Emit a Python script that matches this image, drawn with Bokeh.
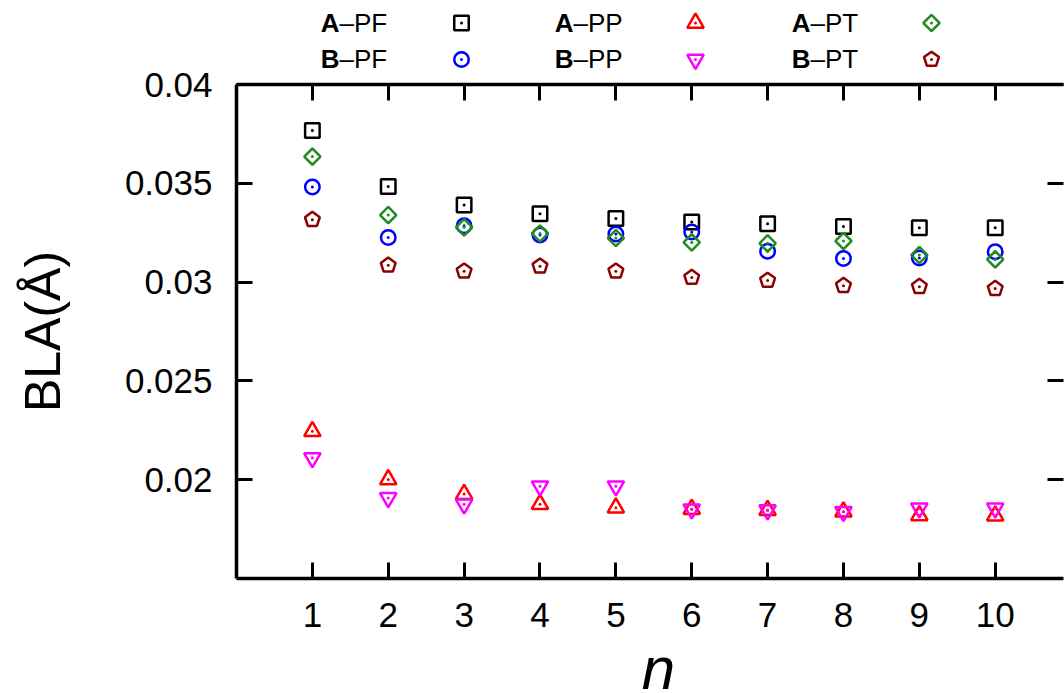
import math
from bokeh.plotting import figure
from bokeh.models import Range1d, FixedTicker, LinearAxis
from bokeh.layouts import column
from bokeh.core.properties import value
from bokeh.embed import file_html
from bokeh.resources import INLINE

# ---------------- data ----------------
n_values = [1, 2, 3, 4, 5, 6, 7, 8, 9, 10]
A_PF = [0.03767, 0.03484, 0.03390, 0.03346, 0.03322, 0.03304, 0.03295, 0.03282, 0.03275, 0.03275]
B_PF = [0.03481, 0.03226, 0.03285, 0.03238, 0.03243, 0.03254, 0.03156, 0.03119, 0.03122, 0.03154]
A_PP = [0.02245, 0.02001, 0.01927, 0.01876, 0.01858, 0.01851, 0.01846, 0.01838, 0.01819, 0.01818]
B_PP = [0.02110, 0.01908, 0.01876, 0.01967, 0.01967, 0.01851, 0.01846, 0.01838, 0.01856, 0.01856]
A_PT = [0.03635, 0.03339, 0.03277, 0.03246, 0.03223, 0.03201, 0.03196, 0.03208, 0.03137, 0.03115]
B_PT = [0.03316, 0.03085, 0.03055, 0.03080, 0.03055, 0.03023, 0.03008, 0.02982, 0.02977, 0.02967]

y_ticks = [0.02, 0.025, 0.03, 0.035, 0.04]
y_tick_labels = ["0.02", "0.025", "0.03", "0.035", "0.04"]
x_ticks = [1, 2, 3, 4, 5, 6, 7, 8, 9, 10]

legend_bold = ["A", "B", "A", "B", "A", "B"]
legend_rest = ["\u2013PF", "\u2013PF", "\u2013PP", "\u2013PP", "\u2013PT", "\u2013PT"]

x_title = "n"
y_title = "BLA(\u00c5)"

# ---------------- styles ----------------
FONT = "Liberation Sans"
LW = 2.5
styles = {
    "A_PF": dict(marker="square", color="#000000", size=14.5, angle=0.0),
    "B_PF": dict(marker="circle", color="#0000ff", size=14.5, angle=0.0),
    "A_PP": dict(marker="triangle", color="#ff0000", size=16.5, angle=0.0),
    "B_PP": dict(marker="inverted_triangle", color="#ff00ff", size=16.5, angle=0.0),
    "A_PT": dict(marker="square", color="#228b22", size=11.5, angle=math.pi / 4),
    "B_PT": dict(marker="pentagon", color="#8b0000", size=7.8, angle=0.0),
}
series = {"A_PF": A_PF, "B_PF": B_PF, "A_PP": A_PP, "B_PP": B_PP, "A_PT": A_PT, "B_PT": B_PT}
legend_order = ["A_PF", "B_PF", "A_PP", "B_PP", "A_PT", "B_PT"]

PENT_ANGLE = 0.0


def draw(fig, xs, ys, st):
    if st["marker"] == "pentagon":
        drawn = False
        try:
            fig.ngon(x=xs, y=ys, radius=st["size"], radius_units="screen", n=5,
                     angle=PENT_ANGLE, fill_color=None, line_color=st["color"], line_width=LW)
            drawn = True
        except Exception:
            drawn = False
        if not drawn:
            fig.scatter(x=xs, y=ys, marker="hex", size=15, fill_color=None,
                        line_color=st["color"], line_width=LW)
    else:
        fig.scatter(x=xs, y=ys, marker=st["marker"], size=st["size"], angle=st["angle"],
                    fill_color=None, line_color=st["color"], line_width=LW)
    fig.scatter(x=xs, y=ys, marker="circle", size=3, fill_color=st["color"], line_color=None)


LEFT = 236
RIGHT_EDGE = 1063
LEG_H = 72
BOT_H = 45
MAIN_H = 693 - LEG_H - BOT_H

# ---------------- legend strip (top) ----------------
leg = figure(width=1064, height=LEG_H, x_range=Range1d(LEFT, RIGHT_EDGE), y_range=Range1d(0, LEG_H),
             output_backend="svg", toolbar_location=None, x_axis_type=None, y_axis_type=None,
             min_border_left=LEFT, min_border_right=1064 - RIGHT_EDGE, min_border_top=0,
             min_border_bottom=0)
leg.outline_line_color = None
leg.xgrid.visible = False
leg.ygrid.visible = False

col_split = [339, 339, 573, 573, 810, 810]
col_marker = [461, 461, 695, 695, 931, 931]
row_text_y = [LEG_H - 22, LEG_H - 58.5, LEG_H - 22, LEG_H - 58.5, LEG_H - 22, LEG_H - 58.5]
row_mark_y = [LEG_H - 22.5, LEG_H - 59, LEG_H - 22.5, LEG_H - 59, LEG_H - 22.5, LEG_H - 59]

leg.text(x=col_split, y=row_text_y, text=legend_bold, text_align="right", text_baseline="middle",
         text_font=value(FONT), text_font_size="26px", text_font_style="bold", text_color="#000000")
leg.text(x=col_split, y=row_text_y, text=legend_rest, text_align="left", text_baseline="middle",
         text_font=value(FONT), text_font_size="26px", text_color="#000000")
for i, key in enumerate(legend_order):
    draw(leg, [col_marker[i]], [row_mark_y[i]], styles[key])

# ---------------- main figure ----------------
p = figure(width=1064, height=MAIN_H, x_range=Range1d(0, 10.9), y_range=Range1d(0.015, 0.04),
           output_backend="svg", toolbar_location=None,
           min_border_left=LEFT, min_border_right=1064 - RIGHT_EDGE, min_border_top=12,
           min_border_bottom=70)
p.outline_line_color = None
p.xgrid.visible = False
p.ygrid.visible = False

for key in legend_order:
    draw(p, n_values, series[key], styles[key])

xt = FixedTicker(ticks=x_ticks)
yt = FixedTicker(ticks=y_ticks)


def style_axis(ax, ticker, show_labels, show_line=True):
    ax.ticker = ticker
    ax.axis_line_width = 3.5
    ax.axis_line_color = "#000000" if show_line else None
    ax.major_tick_line_width = 3
    ax.major_tick_line_color = "#000000"
    ax.major_tick_in = 16
    ax.major_tick_out = 0
    ax.minor_tick_line_color = None
    if show_labels:
        ax.major_label_text_font = FONT
        ax.major_label_text_font_size = "35px"
        ax.major_label_text_color = "#000000"
        ax.major_label_standoff = 24
    else:
        ax.major_label_text_font_size = "0px"
        ax.major_label_standoff = 0
        ax.major_label_text_color = None


style_axis(p.xaxis[0], xt, True)
style_axis(p.yaxis[0], yt, True)
p.yaxis[0].major_label_overrides = {t: l for t, l in zip(y_ticks, y_tick_labels)}

p.yaxis[0].axis_label = y_title
p.yaxis[0].axis_label_text_font = FONT
p.yaxis[0].axis_label_text_font_style = "normal"
p.yaxis[0].axis_label_text_font_size = "50px"
p.yaxis[0].axis_label_standoff = 51
p.yaxis[0].axis_label_text_color = "#000000"

top_ax = LinearAxis()
style_axis(top_ax, xt, False)
p.add_layout(top_ax, "above")

right_ax = LinearAxis()
style_axis(right_ax, yt, False, show_line=False)
p.add_layout(right_ax, "right")

# ---------------- x-axis title strip (bottom) ----------------
bot = figure(width=1064, height=BOT_H, x_range=p.x_range, y_range=Range1d(0, BOT_H),
             output_backend="svg", toolbar_location=None, x_axis_type=None, y_axis_type=None,
             min_border_left=LEFT, min_border_right=1064 - RIGHT_EDGE, min_border_top=0,
             min_border_bottom=0)
bot.outline_line_color = None
bot.xgrid.visible = False
bot.ygrid.visible = False
bot.text(x=[5.56], y=[25], text=[x_title], text_align="center", text_baseline="middle",
         text_font=value(FONT), text_font_size="60px", text_font_style="italic", text_color="#000000")

layout = column(leg, p, bot, spacing=0)
open("out.html", "w").write(file_html(layout, INLINE))
